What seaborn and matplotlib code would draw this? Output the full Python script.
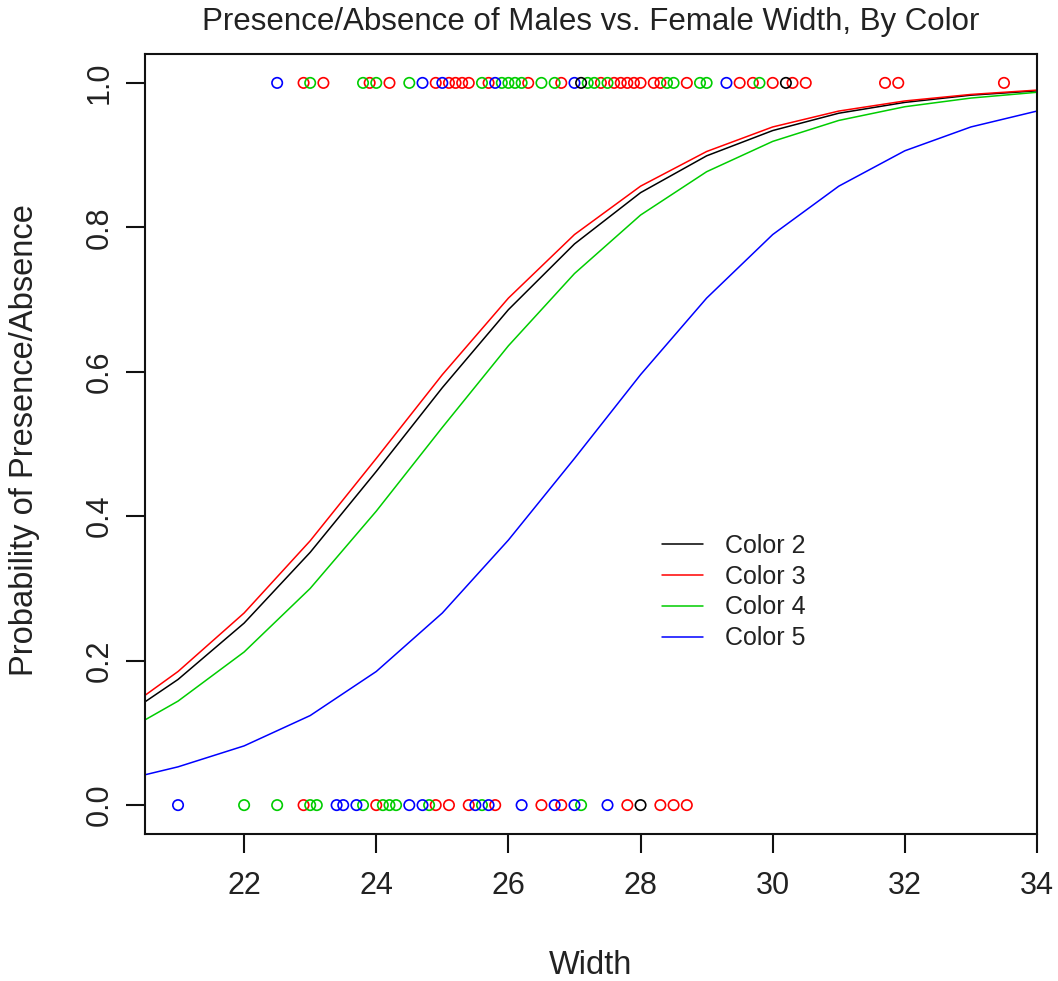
import matplotlib
matplotlib.use("Agg")
import matplotlib.pyplot as plt
from matplotlib.lines import Line2D
import seaborn as sns
import pandas as pd

# ---------------- data ----------------
color_labels = ["Color 2", "Color 3", "Color 4", "Color 5"]
palette = {"Color 2": "#000000", "Color 3": "#FF0000",
           "Color 4": "#00CD00", "Color 5": "#0000FF"}

curve_width = [20.5, 21, 22, 23, 24, 25, 26, 27, 28, 29, 30, 31, 32, 33, 34]
curve_c2 = [0.143, 0.174, 0.252, 0.350, 0.462, 0.578, 0.686, 0.777, 0.848,
            0.899, 0.934, 0.958, 0.973, 0.983, 0.989]
curve_c3 = [0.152, 0.185, 0.266, 0.366, 0.480, 0.596, 0.702, 0.790, 0.857,
            0.905, 0.939, 0.961, 0.975, 0.984, 0.990]
curve_c4 = [0.118, 0.144, 0.212, 0.300, 0.407, 0.523, 0.636, 0.736, 0.817,
            0.877, 0.919, 0.948, 0.967, 0.979, 0.987]
curve_c5 = [0.042, 0.053, 0.082, 0.124, 0.185, 0.266, 0.367, 0.480, 0.596,
            0.702, 0.790, 0.857, 0.906, 0.939, 0.961]

# observed widths with satellites present (y = 1)
present_c2 = [27.1, 30.2]
present_c3 = [22.9, 23.2, 23.9, 24.2, 24.9, 25.1, 25.2, 25.3, 25.4, 25.7,
              26.3, 26.8, 27.4, 27.6, 27.7, 27.8, 27.9, 28.0, 28.2, 28.3,
              28.7, 29.5, 29.7, 30.0, 30.3, 30.5, 31.7, 31.9, 33.5]
present_c4 = [23.0, 23.8, 24.0, 24.5, 25.6, 25.9, 26.0, 26.1, 26.2, 26.5,
              26.7, 27.2, 27.3, 27.5, 28.4, 28.5, 28.9, 29.0, 29.8]
present_c5 = [22.5, 24.7, 25.0, 25.8, 27.0, 29.3]

# observed widths with satellites absent (y = 0)
absent_c2 = [28.0]
absent_c3 = [22.9, 24.0, 24.9, 25.1, 25.4, 25.8, 26.5, 26.8, 27.8, 28.3,
             28.5, 28.7]
absent_c4 = [22.0, 22.5, 23.0, 23.1, 23.8, 24.1, 24.2, 24.3, 24.8, 25.6, 27.1]
absent_c5 = [21.0, 23.4, 23.5, 23.7, 24.5, 24.7, 25.5, 25.7, 26.2, 26.7,
             27.0, 27.5]

x_ticks = [22, 24, 26, 28, 30, 32, 34]
y_ticks = [0.0, 0.2, 0.4, 0.6, 0.8, 1.0]
y_tick_labels = ["0.0", "0.2", "0.4", "0.6", "0.8", "1.0"]

title = "Presence/Absence of Males vs. Female Width, By Color"
x_label = "Width"
y_label = "Probability of Presence/Absence"

# ---------------- frames ----------------
curves = []
for lab, vals in zip(color_labels, [curve_c2, curve_c3, curve_c4, curve_c5]):
    curves.append(pd.DataFrame({"Width": curve_width, "Prob": vals, "Color": lab}))
curve_df = pd.concat(curves, ignore_index=True)

pts = []
order = [("Color 3", present_c3, absent_c3), ("Color 4", present_c4, absent_c4),
         ("Color 5", present_c5, absent_c5), ("Color 2", present_c2, absent_c2)]
for lab, pres, absn in order:
    pts.append(pd.DataFrame({"Width": pres, "Y": [1.0] * len(pres), "Color": lab}))
    pts.append(pd.DataFrame({"Width": absn, "Y": [0.0] * len(absn), "Color": lab}))
pt_df = pd.concat(pts, ignore_index=True)

# ---------------- style ----------------
sns.set_style("white")
plt.rcParams["font.family"] = ["Liberation Sans", "DejaVu Sans"]
text_color = "#222222"

W, H = 1058, 981
fig = plt.figure(figsize=(W / 100, H / 100), dpi=100)
L, R, T, B = 145, 1037, 54, 834
ax = fig.add_axes([L / W, 1 - B / H, (R - L) / W, (B - T) / H])

sns.scatterplot(data=pt_df, x="Width", y="Y", hue="Color", palette=palette,
                marker="o", s=56, linewidth=1.2, legend=False, ax=ax)
coll = ax.collections[0]
coll.set_edgecolors([palette[c] for c in pt_df["Color"]])
coll.set_facecolors("none")

sns.lineplot(data=curve_df, x="Width", y="Prob", hue="Color", palette=palette,
             hue_order=color_labels, sort=True, estimator=None, linewidth=1.1,
             legend=False, ax=ax)

ax.set_xlim(20.5, 34.0)
ax.set_ylim(-0.04, 1.04)
ax.set_xticks(x_ticks)
ax.set_xticklabels([str(v) for v in x_ticks])
ax.set_yticks(y_ticks)
ax.set_yticklabels(y_tick_labels, rotation=90, va="center")
ax.set_xlabel("")
ax.set_ylabel("")

for sp in ax.spines.values():
    sp.set_visible(True)
    sp.set_color("#111111")
    sp.set_linewidth(1.5)

ax.tick_params(axis="both", which="major", direction="out", length=14,
               width=1.5, color="#111111", labelsize=22, labelcolor=text_color,
               left=True, bottom=True)
ax.tick_params(axis="x", pad=13)
ax.tick_params(axis="y", pad=8)

fig.text(591 / W, 1 - 22 / H, title, ha="center", va="center",
         fontsize=22.5, color=text_color)
fig.text(591 / W, 1 - 965 / H, x_label, ha="center", va="center",
         fontsize=23.5, color=text_color)
fig.text(25 / W, 1 - 440 / H, y_label, ha="center", va="center",
         rotation=90, fontsize=23.5, color=text_color)

handles = [Line2D([], [], color=palette[c], linewidth=1.1) for c in color_labels]
ax.legend(handles, color_labels, loc="upper left",
          bbox_to_anchor=(662 / W, 1 - 534 / H), bbox_transform=fig.transFigure,
          frameon=False, fontsize=18, handlelength=1.64, handletextpad=0.88,
          labelspacing=0.27, borderpad=0, borderaxespad=0, labelcolor=text_color)

fig.savefig("out.png", dpi=100)
